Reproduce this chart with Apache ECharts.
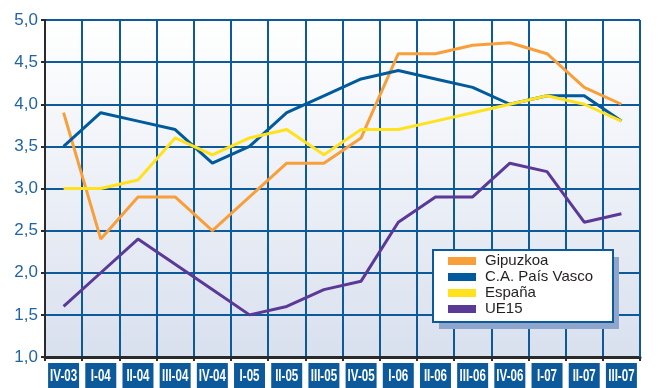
<!DOCTYPE html>
<html>
<head>
<meta charset="utf-8">
<script src="https://cdn.jsdelivr.net/npm/echarts@6/dist/echarts.min.js"></script>
<style>
  html, body { margin: 0; padding: 0; background: #ffffff; }
  #chart { width: 663px; height: 388px; }
</style>
</head>
<body>
<div id="chart"></div>
<script>
// Quarters on the horizontal axis
const quarters = ['IV-03', 'I-04', 'II-04', 'III-04', 'IV-04', 'I-05', 'II-05', 'III-05',
                  'IV-05', 'I-06', 'II-06', 'III-06', 'IV-06', 'I-07', 'II-07', 'III-07'];

// Series values (%)
const gipuzkoa   = [3.9, 2.4, 2.9, 2.9, 2.5, 2.9, 3.3, 3.3, 3.6, 4.6, 4.6, 4.7, 4.73, 4.6, 4.2, 4.0];
const paisVasco  = [3.5, 3.9, 3.8, 3.7, 3.3, 3.5, 3.9, 4.1, 4.3, 4.4, 4.3, 4.2, 4.0, 4.1, 4.1, 3.8];
const espana     = [3.0, 3.0, 3.1, 3.6, 3.4, 3.6, 3.7, 3.4, 3.7, 3.7, 3.8, 3.9, 4.0, 4.1, 4.0, 3.8];
const ue15       = [1.6, 2.0, 2.4, 2.1, 1.8, 1.5, 1.6, 1.8, 1.9, 2.6, 2.9, 2.9, 3.3, 3.2, 2.6, 2.7];

const seriesNames = ['Gipuzkoa', 'C.A. País Vasco', 'España', 'UE15'];
const seriesData  = [gipuzkoa, paisVasco, espana, ue15];
const seriesColors = ['#f89f3a', '#005a9c', '#ffe21c', '#5b3996'];

const blue = '#0c5a9b';

// Legend frame
const legendBox = { x: 433, y: 250, w: 180, h: 72 };

const chart = echarts.init(document.getElementById('chart'), null, { renderer: 'canvas' });

chart.setOption({
  animation: false,
  backgroundColor: '#ffffff',
  grid: {
    left: 45, right: 23, top: 20, bottom: 31,
    show: true,
    borderWidth: 0,
    backgroundColor: new echarts.graphic.LinearGradient(0, 0, 0, 1, [
      { offset: 0, color: '#ffffff' },
      { offset: 1, color: '#d9e0ee' }
    ])
  },
  legend: {
    orient: 'vertical',
    left: legendBox.x, top: legendBox.y,
    padding: [3, 0, 0, 15],
    itemWidth: 28, itemHeight: 8, itemGap: 0,
    icon: 'rect',
    z: 6,
    textStyle: {
      fontFamily: 'Liberation Sans, Arial, sans-serif', fontSize: 15, lineHeight: 16,
      color: '#231f20', padding: [0, 0, 0, 4]
    },
    data: seriesNames
  },
  xAxis: {
    type: 'category',
    data: quarters,
    boundaryGap: true,
    axisLine: { show: true, lineStyle: { color: '#2a2a2a', width: 3 } },
    axisTick: { show: true, length: 4, lineStyle: { color: '#2a2a2a', width: 2 } },
    splitLine: { show: true, interval: 0, lineStyle: { color: blue, width: 2 } },
    axisLabel: { show: false }
  },
  yAxis: {
    type: 'value',
    min: 1, max: 5, interval: 0.5,
    axisLine: { show: true, lineStyle: { color: '#2a2a2a', width: 2 } },
    axisTick: { show: true, length: 4, lineStyle: { color: '#2a2a2a', width: 2 } },
    splitLine: { show: true, lineStyle: { color: blue, width: 2 } },
    axisLabel: {
      margin: 7,
      color: '#1f64a4',
      fontFamily: 'Liberation Sans, Arial, sans-serif',
      fontSize: 17,
      formatter: v => v.toFixed(1).replace('.', ',')
    }
  },
  series: seriesNames.map((name, i) => ({
    name,
    type: 'line',
    data: seriesData[i],
    symbol: 'none',
    color: seriesColors[i],
    lineStyle: { width: 3, color: seriesColors[i] },
    z: 3
  }))
});

// Right-hand border of the plot area, legend frame with drop shadow,
// and boxed quarter labels under each category
const rect = chart.getModel().getComponent('grid', 0).coordinateSystem.getRect();
const bottom = rect.y + rect.height;
const graphics = [
  {
    type: 'line', z: 1,
    shape: { x1: rect.x + rect.width, y1: rect.y, x2: rect.x + rect.width, y2: bottom },
    style: { stroke: blue, lineWidth: 2 }
  },
  {
    type: 'rect', z: 4,
    shape: { x: legendBox.x + 6, y: legendBox.y + 7, width: legendBox.w, height: legendBox.h },
    style: { fill: '#8ea6cc' }
  },
  {
    type: 'rect', z: 5,
    shape: { x: legendBox.x, y: legendBox.y, width: legendBox.w, height: legendBox.h },
    style: { fill: '#ffffff', stroke: blue, lineWidth: 2 }
  }
];
quarters.forEach(q => {
  const cx = chart.convertToPixel({ xAxisIndex: 0 }, q);
  graphics.push({
    type: 'group',
    x: cx, y: bottom + 6,
    children: [
      { type: 'rect', shape: { x: -15.5, y: 0, width: 31, height: 25 }, style: { fill: blue } },
      {
        type: 'text', x: 0, y: 13, scaleX: 0.68,
        style: {
          text: q, fill: '#ffffff', align: 'center', verticalAlign: 'middle',
          font: 'bold 17px "Liberation Sans", Arial, sans-serif'
        }
      }
    ]
  });
});
chart.setOption({ graphic: graphics });
</script>
</body>
</html>
